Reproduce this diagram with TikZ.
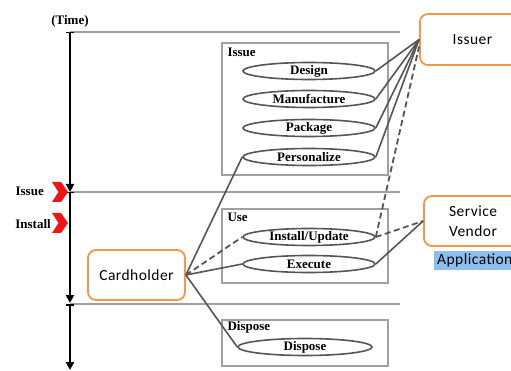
\documentclass[tikz,border=0pt]{standalone}
\usepackage{fontspec}
\setmainfont{Liberation Serif}
\newfontfamily\carl[LetterSpace=3.0]{Carlito}
\usetikzlibrary{arrows.meta,shapes.geometric}
\definecolor{actorOrange}{RGB}{247,150,70}
\definecolor{chevRed}{RGB}{240,20,20}
\definecolor{appBlue}{RGB}{141,190,240}
\definecolor{linkGray}{RGB}{85,85,85}
\definecolor{boxGray}{RGB}{160,160,160}
\tikzset{
  serif/.style={font=\bfseries\fontsize{13}{14}\selectfont},
  task/.style={ellipse, draw=linkGray, line width=1.6pt, minimum width=132pt, minimum height=17pt, inner sep=0pt, serif},
  pbox/.style={draw=boxGray, line width=1.3pt},
  plabel/.style={anchor=north west, inner sep=1pt, serif},
  actor/.style={draw=actorOrange, rounded corners=8pt, line width=1.8pt, fill=white, align=center, font=\carl\fontsize{15.5}{20}\selectfont},
  link/.style={draw=linkGray, line width=1.6pt},
  dlink/.style={link, line width=1.8pt, dash pattern=on 6pt off 3.5pt},
  sepline/.style={draw=boxGray, line width=1.1pt},
  axis/.style={draw=black, line width=2.4pt, {Bar[width=8pt,line width=1.5pt]}-{Triangle[width=8pt,length=8pt]}},
  chev/.style={fill=chevRed, draw=none}
}
\begin{document}
\begin{tikzpicture}[x=1pt,y=-1pt]
\useasboundingbox (0,0) rectangle (511,371);
\begin{scope}
\clip (0,0) rectangle (511,371);
% timeline
\coordinate (t0) at (70,32);
\coordinate (t1) at (70,192);
\coordinate (t2) at (70,304);
\coordinate (t3) at (70,370);
\coordinate (g0) at (400,32);
\coordinate (g1) at (400,192);
\coordinate (g2) at (400,304);
\draw[sepline] (t0) -- (g0);
\draw[sepline] (t1) -- (g1);
\draw[sepline] (t2) -- (g2);
\draw[axis] (t0) -- (t1);
\draw[axis] (t1) -- ([yshift=1pt]t2);
\draw[axis] (t2) -- (t3);
\node[serif] (timelbl) at (70,21) {(Time)};
% chevrons
\fill[chev] (52,182) -- (61,182) -- (68,192) -- (61,202) -- (52,202) -- (58.5,192) -- cycle;
\fill[chev] (52,213) -- (61,213) -- (68,223) -- (61,233) -- (52,233) -- (58.5,223) -- cycle;
\node[serif, anchor=east, inner sep=0pt] (issuelbl) at (44,191) {Issue};
\node[serif, anchor=east, inner sep=0pt] (installlbl) at (51,224) {Install};
% phase boxes
\node[pbox, minimum width=166pt, minimum height=132pt, inner sep=0pt] (issuebox) at (305,109) {};
\node[plabel] at ([xshift=5pt,yshift=-4pt]issuebox.north west) (issuehead) {Issue};
\node[pbox, minimum width=166pt, minimum height=74pt, inner sep=0pt] (usebox) at (305,246) {};
\node[plabel] at ([xshift=5pt,yshift=-3pt]usebox.north west) (usehead) {Use};
\node[pbox, minimum width=166pt, minimum height=46pt, inner sep=0pt] (dispbox) at (305,343) {};
\node[plabel] at ([xshift=5pt,yshift=-1pt]dispbox.north west) (disphead) {Dispose};
% tasks
\node[task] (design) at (309,71) {Design};
\node[task] (manu) at (309,99) {Manufacture};
\node[task] (pack) at (309,128) {Package};
\node[task] (pers) at (309,157) {Personalize};
\node[task] (inst) at (309,237) {Install/Update};
\node[task] (exec) at (309,264) {Execute};
\node[task, minimum width=134pt] (disp) at (305,347) {Dispose};
% actors
\node[actor, minimum width=105pt, minimum height=51pt] (issuer) at (472.5,39.5) {Issuer};
\node[actor, minimum width=98pt, minimum height=50pt] (vendor) at (473,221) {Service\\Vendor};
\node[fill=appBlue, anchor=west, minimum height=19pt, inner sep=3pt, font=\carl\fontsize{15.5}{18}\selectfont] (app) at (434,260.5) {Application};
\node[actor, minimum width=97pt, minimum height=50pt] (card) at (136.5,275) {Cardholder};
% links
\draw[link] (design.east) -- (issuer.west);
\draw[link] (manu.east) -- (issuer.west);
\draw[link] (pack.east) -- (issuer.west);
\draw[link] (pers.east) -- (issuer.west);
\draw[dlink] (inst.east) -- ([yshift=-7pt]issuer.west);
\draw[dlink] (inst.east) -- (vendor.west);
\draw[link] (exec.east) -- (vendor.west);
\draw[link] (card.east) -- (pers.west);
\draw[dlink] (card.east) -- (inst.west);
\draw[link] (card.east) -- (exec.west);
\draw[link] (card.east) -- (disp.west);
\end{scope}
\end{tikzpicture}
\end{document}
